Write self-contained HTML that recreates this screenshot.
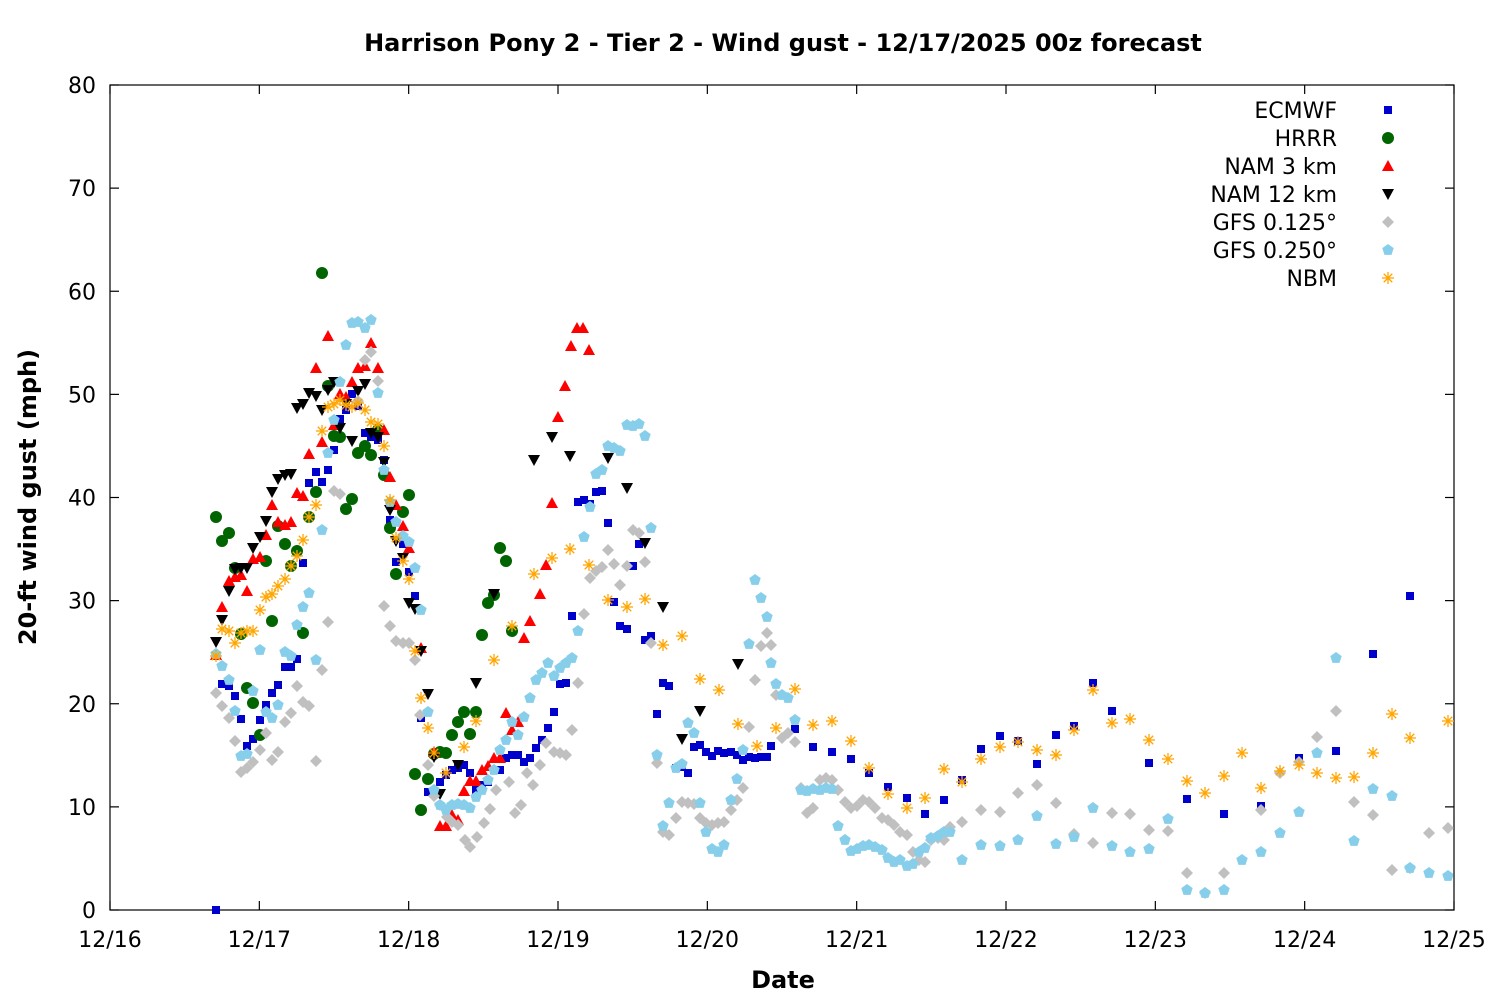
<!DOCTYPE html>
<html><head><meta charset="utf-8"><style>
body{margin:0;background:#fff}
svg{display:block;font-family:"Liberation Sans","DejaVu Sans",sans-serif}
</style></head><body>
<svg id="s" width="1500" height="1000" xmlns="http://www.w3.org/2000/svg">
<rect width="1500" height="1000" fill="#fff"/>
<text x="783" y="51" text-anchor="middle" font-size="24" font-weight="bold" font-family="DejaVu Sans, sans-serif">Harrison Pony 2 - Tier 2 - Wind gust - 12/17/2025 00z forecast</text>
<text x="783" y="988" text-anchor="middle" font-size="24" font-weight="bold" font-family="DejaVu Sans, sans-serif">Date</text>
<text transform="translate(36,497) rotate(-90)" text-anchor="middle" font-size="24" font-weight="bold" font-family="DejaVu Sans, sans-serif">20-ft wind gust (mph)</text>
<g id="axes" stroke="#000" stroke-width="1.2" fill="none"></g>
<g id="lab" font-size="22" font-family="DejaVu Sans, sans-serif"></g>
<g id="pts"></g>
<g id="leg" font-size="22" font-family="DejaVu Sans, sans-serif"></g>
</svg>
<script>
const NS="http://www.w3.org/2000/svg";
function el(p,t,a,txt){const e=document.createElementNS(NS,t);for(const k in a)e.setAttribute(k,a[k]);if(txt!=null)e.textContent=txt;document.getElementById(p).appendChild(e);return e;}
const L=110,R=1454,T=85,B=910;
el('axes','rect',{x:L,y:T,width:R-L,height:B-T});
for(let v=0;v<=80;v+=10){const y=B-v*(B-T)/80;
 el('axes','line',{x1:L,y1:y,x2:L+9,y2:y});el('axes','line',{x1:R,y1:y,x2:R-9,y2:y});
 el('lab','text',{x:96,y:y+8,'text-anchor':'end'},String(v));}
const days=['12/16','12/17','12/18','12/19','12/20','12/21','12/22','12/23','12/24','12/25'];
days.forEach((d,i)=>{const x=L+i*(R-L)/9;
 el('axes','line',{x1:x,y1:B,x2:x,y2:B-9});el('axes','line',{x1:x,y1:T,x2:x,y2:T+9});
 el('lab','text',{x:x,y:947,'text-anchor':'middle'},d);});
function P(s){return s.trim().split(/\)\s*,?\s*\(/).map(t=>t.replace(/[()]/g,'').split(',').map(Number));}
function mk(g,type,x,y,c){
 if(type=='sq')el(g,'rect',{x:x-4,y:y-4,width:8,height:8,fill:c});
 else if(type=='ci')el(g,'circle',{cx:x,cy:y,r:6,fill:c});
 else if(type=='tu')el(g,'polygon',{points:`${x-6},${y+5} ${x+6},${y+5} ${x},${y-6}`,fill:c});
 else if(type=='td')el(g,'polygon',{points:`${x-6},${y-5} ${x+6},${y-5} ${x},${y+6}`,fill:c});
 else if(type=='di')el(g,'polygon',{points:`${x},${y-6} ${x+6},${y} ${x},${y+6} ${x-6},${y}`,fill:c});
 else if(type=='pe'){let p=[];for(let i=0;i<5;i++){const a=-Math.PI/2+i*2*Math.PI/5;p.push((x+6*Math.cos(a)).toFixed(1)+','+(y+6*Math.sin(a)).toFixed(1));}el(g,'polygon',{points:p.join(' '),fill:c});}
 else if(type=='as'){for(let i=0;i<4;i++){const a=i*Math.PI/4;el(g,'line',{x1:x-6*Math.cos(a),y1:y-6*Math.sin(a),x2:x+6*Math.cos(a),y2:y+6*Math.sin(a),stroke:c,'stroke-width':1.3});}}
}
const S=[
['ECMWF','sq','#0000cc',`(216,910),(222,684),(229,686),(235,696),(241,719),(247,746),(253,739),(260,720),(266,705),(272,693),(278,685),(285,667),(291,667),(297,659),(303,563),(309,483),(316,472),(322,482),(328,470),(334,450),(340,419),(346,410),(352,394),(358,406),(365,433),(371,437),(378,440),(384,460),(390,520),(396,562),(403,544),(409,572),(415,596),(421,718),(428,792),(434,794),(440,782),(446,775),(452,770),(458,768),(464,765),(470,773),(476,790),(482,785),(488,782),(494,770),(500,770),(506,758),(512,755),(518,755),(524,762),(530,758),(536,748),(542,740),(548,728),(554,712),(560,684),(566,683),(572,616),(578,502),(584,500),(590,504),(596,492),(602,491),(608,523),(614,602),(620,626),(627,629),(633,566),(639,544),(645,640),(651,636),(657,714),(663,683),(669,686),(676,768),(682,767),(688,773),(694,747),(700,745),(706,752),(712,756),(718,751),(724,753),(731,752),(737,755),(743,760),(749,757),(755,758),(761,757),(767,757),(771,746),(795,729),(813,747),(832,752),(851,759),(869,773),(888,787),(907,798),(925,814),(944,800),(962,780),(981,749),(1000,736),(1018,741),(1037,764),(1056,735),(1074,726),(1093,683),(1112,711),(1149,763),(1187,799),(1224,814),(1261,806),(1299,758),(1336,751),(1373,654),(1410,596)`],
['HRRR','ci','#006400',`(216,517),(222,541),(229,533),(235,568),(241,634),(247,688),(253,703),(260,735),(266,561),(272,621),(278,526),(285,544),(291,566),(297,551),(303,633),(309,517),(316,492),(322,273),(328,386),(334,436),(340,437),(346,509),(352,499),(358,453),(365,446),(371,455),(378,430),(384,475),(390,528),(396,574),(403,512),(409,495),(415,774),(421,810),(428,779),(434,754),(440,752),(446,753),(452,735),(458,722),(464,712),(470,734),(476,712),(482,635),(488,603),(494,595),(500,548),(506,561),(512,631)`],
['NAM 3 km','tu','#ff0000',`(216,655),(222,607),(229,581),(235,577),(241,575),(247,591),(253,559),(260,557),(266,535),(272,505),(278,522),(285,525),(291,522),(297,493),(303,496),(309,454),(316,368),(322,442),(328,336),(334,425),(340,394),(346,397),(352,382),(358,368),(365,366),(371,343),(378,368),(384,430),(390,477),(396,505),(403,526),(409,548),(421,648),(434,752),(440,826),(446,826),(452,815),(458,820),(464,791),(470,781),(476,781),(482,770),(488,766),(494,758),(500,758),(506,713),(512,730),(518,722),(524,638),(530,621),(540,594),(546,565),(552,503),(558,417),(565,386),(571,346),(577,328),(583,328),(589,350)`],
['NAM 12 km','td','#000000',`(216,642),(222,620),(229,591),(235,569),(241,568),(247,568),(253,548),(260,537),(266,521),(272,492),(278,479),(285,475),(291,474),(297,408),(303,404),(309,393),(316,396),(322,410),(328,390),(334,382),(340,428),(346,404),(352,441),(358,391),(365,384),(371,433),(378,437),(384,462),(390,510),(396,541),(403,558),(409,603),(415,609),(421,651),(428,694),(434,757),(440,794),(458,765),(476,683),(494,594),(534,460),(552,437),(570,456),(608,458),(627,488),(645,543),(663,607),(682,739),(700,711),(738,664)`],
['GFS 0.125°','di','#c0c0c0',`(216,693),(222,706),(229,718),(235,741),(241,772),(247,768),(253,762),(260,750),(266,733),(272,760),(278,752),(285,722),(291,713),(297,686),(303,702),(309,706),(316,761),(322,670),(328,622),(334,491),(340,494),(358,401),(365,360),(371,352),(378,381),(384,606),(390,626),(396,641),(403,643),(409,643),(415,660),(420,715),(428,765),(434,796),(440,805),(447,817),(452,822),(458,825),(465,840),(470,847),(477,837),(484,823),(490,809),(496,790),(509,782),(515,813),(521,805),(527,773),(533,785),(540,765),(546,743),(554,752),(560,753),(566,755),(572,730),(578,683),(584,614),(590,578),(596,571),(602,567),(608,550),(614,564),(620,585),(627,566),(633,530),(639,533),(645,562),(651,643),(657,763),(663,832),(669,835),(676,818),(682,802),(688,803),(694,804),(700,818),(706,823),(712,825),(718,823),(724,822),(731,810),(737,800),(743,788),(749,727),(755,680),(761,646),(767,633),(771,645),(776,695),(782,738),(788,733),(795,742),(801,788),(807,813),(813,808),(820,780),(826,778),(832,780),(838,790),(845,802),(851,808),(857,806),(863,800),(869,802),(875,808),(882,818),(888,820),(894,825),(900,832),(907,835),(913,852),(919,860),(925,862),(931,840),(938,838),(944,840),(950,827),(962,822),(981,810),(1000,812),(1018,793),(1037,785),(1056,803),(1074,834),(1093,843),(1112,813),(1130,814),(1149,830),(1168,831),(1187,873),(1205,893),(1224,873),(1261,810),(1280,773),(1299,762),(1317,737),(1336,711),(1354,802),(1373,815),(1392,870),(1410,868),(1429,833),(1448,828)`],
['GFS 0.250°','pe','#87ceeb',`(216,654),(222,666),(229,680),(235,711),(241,756),(247,754),(253,691),(260,650),(266,712),(272,718),(278,705),(285,652),(291,656),(297,625),(303,607),(309,593),(316,660),(322,530),(328,453),(334,420),(340,382),(346,345),(352,323),(358,322),(365,328),(371,320),(378,393),(384,470),(390,502),(396,522),(403,536),(409,542),(415,568),(421,610),(428,712),(434,790),(440,805),(446,810),(452,805),(458,804),(464,805),(470,808),(476,797),(482,790),(488,780),(494,770),(500,750),(506,740),(512,722),(518,735),(524,717),(530,698),(536,680),(542,673),(548,663),(554,676),(560,668),(566,663),(572,658),(578,631),(584,537),(590,507),(596,474),(602,470),(608,446),(614,448),(620,451),(627,425),(633,426),(639,424),(645,436),(651,528),(657,755),(663,826),(669,803),(676,768),(682,764),(688,723),(694,733),(700,803),(706,832),(712,849),(718,852),(724,845),(731,800),(737,779),(743,750),(749,644),(755,580),(761,598),(767,617),(771,663),(776,684),(782,695),(788,698),(795,720),(801,790),(807,791),(813,789),(820,790),(826,788),(832,789),(838,826),(845,840),(851,851),(857,849),(863,846),(869,845),(875,847),(882,850),(888,858),(894,862),(900,860),(907,866),(913,864),(919,852),(925,848),(931,838),(938,836),(944,832),(950,832),(962,860),(981,845),(1000,846),(1018,840),(1037,816),(1056,844),(1074,837),(1093,808),(1112,846),(1130,852),(1149,849),(1168,819),(1187,890),(1205,893),(1224,890),(1242,860),(1261,852),(1280,833),(1299,812),(1317,753),(1336,658),(1354,841),(1373,789),(1392,796),(1410,868),(1429,873),(1448,876)`],
['NBM','as','#ffa500',`(216,656),(222,629),(229,631),(235,643),(241,633),(247,631),(253,631),(260,610),(266,597),(272,594),(278,586),(285,579),(291,566),(297,556),(303,540),(309,517),(316,505),(322,431),(328,407),(334,404),(340,400),(346,405),(352,407),(358,403),(365,410),(371,422),(378,424),(384,446),(390,500),(396,538),(403,561),(409,579),(415,651),(421,698),(428,728),(434,753),(446,773),(464,747),(476,721),(494,660),(512,626),(534,574),(552,558),(570,549),(589,565),(608,600),(627,607),(645,599),(663,645),(682,636),(700,679),(719,690),(738,724),(757,746),(776,728),(795,689),(813,725),(832,721),(851,741),(869,768),(888,794),(907,808),(925,798),(944,769),(962,782),(981,759),(1000,747),(1018,742),(1037,750),(1056,755),(1074,730),(1093,690),(1112,723),(1130,719),(1149,740),(1168,759),(1187,781),(1205,793),(1224,776),(1242,753),(1261,788),(1280,771),(1299,765),(1317,773),(1336,778),(1354,777),(1373,753),(1392,714),(1410,738),(1448,721)`]
];
S.forEach((s,i)=>{P(s[3]).forEach(p=>mk('pts',s[1],p[0],p[1],s[2]));
 const y=110+i*28;el('leg','text',{x:1337,y:y+8,'text-anchor':'end'},s[0]);mk('leg',s[1],1388,y,s[2]);});
</script>
</body></html>
